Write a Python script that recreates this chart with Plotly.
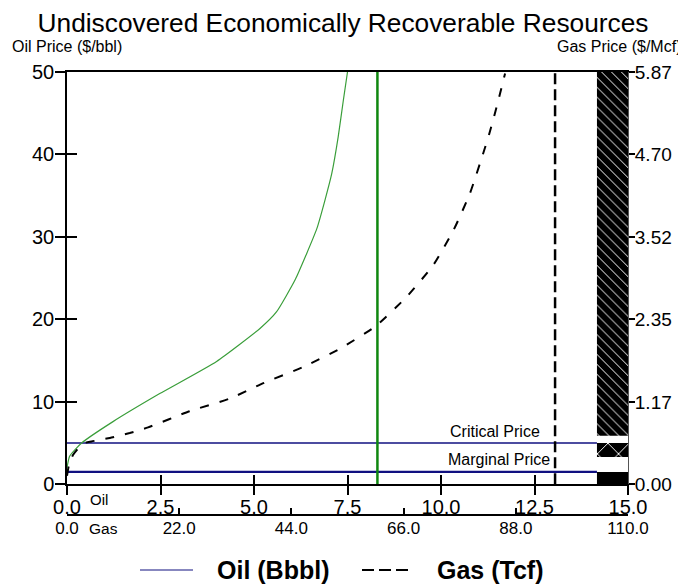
import plotly.graph_objects as go

# ---------------- data ----------------
oil_qty = [0, 0.07, 0.39, 1.23, 2.48, 4.0, 5.16, 5.6, 6.1, 6.41, 6.68, 6.9, 7.08, 7.25, 7.39, 7.5]
oil_price = [2.0, 3.4, 5.0, 7.6, 11.0, 14.9, 18.9, 20.9, 24.8, 28.0, 31.0, 34.5, 37.7, 42.1, 46.6, 50.0]

gas_qty = [0, 0.4, 1.2, 3.1, 4.8, 8.4, 12.3, 15.9, 24.0, 31.9, 38.5, 46.3, 53.5, 60.5,
           66.6, 71.8, 75.8, 79.0, 81.6, 82.8, 83.9, 84.9, 85.9]
gas_price = [0.12, 0.28, 0.42, 0.58, 0.61, 0.66, 0.73, 0.81, 1.04, 1.22, 1.44, 1.67, 1.93, 2.25,
             2.67, 3.12, 3.62, 4.14, 4.71, 4.99, 5.28, 5.56, 5.85]

oil_mean = 8.3      # Bbbl
gas_mean = 95.7     # Tcf
critical_price = 5.0
marginal_price = 1.5

oil_ticks = [0, 2.5, 5.0, 7.5, 10.0, 12.5, 15.0]
oil_tick_text = ["0.0", "2.5", "5.0", "7.5", "10.0", "12.5", "15.0"]
gas_ticks = [0, 22, 44, 66, 88, 110]
gas_tick_text = ["0.0", "22.0", "44.0", "66.0", "88.0", "110.0"]
oilp_ticks = [0, 10, 20, 30, 40, 50]
gasp_ticks = [0, 1.17, 2.35, 3.52, 4.70, 5.87]
gasp_tick_text = ["0.00", "1.17", "2.35", "3.52", "4.70", "5.87"]

bar_x0, bar_x1 = 14.17, 15.0
band_bottoms = [0.0, 3.3, 5.9]
band_tops = [1.5, 5.0, 50.0]
band_patterns = ["", "x", "\\"]

FONT = "Arial, Liberation Sans, sans-serif"
WIN_W, WIN_H = 686, 585
OFF = 8                      # default page body margin
W, H = WIN_W - OFF, WIN_H - OFF
# plot area in window pixels
L, R, T, B = 67, 628, 72, 515
ydom0 = (B - 484.3) / (B - T)


def px_x(px):
    return (px - L) / (R - L)


def px_y(py):
    return (B - py) / (B - T)


fig = go.Figure()

# pattern bar on the right
for b0, b1, pat in zip(band_bottoms, band_tops, band_patterns):
    if pat == "":
        marker = dict(color="black", line=dict(width=0), opacity=1)
    elif pat == "x":
        marker = dict(color="black", line=dict(width=0), opacity=1,
                      pattern=dict(shape="x", fgcolor="white", bgcolor="black",
                                   size=15, solidity=0.12, fillmode="replace"))
    else:
        marker = dict(color="black", line=dict(width=0), opacity=1,
                      pattern=dict(shape="\\", fgcolor="white", bgcolor="black",
                                   size=7, solidity=0.14, fillmode="replace"))
    fig.add_trace(go.Bar(x=[(bar_x0 + bar_x1) / 2], y=[b1 - b0], base=[b0],
                         width=[bar_x1 - bar_x0], marker=marker,
                         xaxis="x", yaxis="y", showlegend=False, hoverinfo="skip"))

# critical / marginal price lines
for pval, lw in [(critical_price, 1.5), (marginal_price, 2.2)]:
    fig.add_trace(go.Scatter(x=[0, bar_x0], y=[pval, pval], mode="lines",
                             line=dict(color="#101080", width=lw),
                             xaxis="x", yaxis="y", showlegend=False, hoverinfo="skip"))

# oil curve and oil mean
fig.add_trace(go.Scatter(x=oil_qty, y=oil_price, mode="lines",
                         line=dict(color="#3a9e3a", width=1.2, shape="spline", smoothing=0.5),
                         xaxis="x", yaxis="y", showlegend=False))
fig.add_trace(go.Scatter(x=[oil_mean, oil_mean], y=[0, 50], mode="lines",
                         line=dict(color="#0f870f", width=2.5),
                         xaxis="x", yaxis="y", showlegend=False))

# gas curve and gas mean
fig.add_trace(go.Scatter(x=gas_qty, y=gas_price, mode="lines",
                         line=dict(color="black", width=2, dash="9px,11px",
                                   shape="spline", smoothing=0.5),
                         xaxis="x2", yaxis="y2", showlegend=False))
fig.add_trace(go.Scatter(x=[gas_mean, gas_mean], y=[0, 5.87], mode="lines",
                         line=dict(color="black", width=2.5, dash="11px,5px"),
                         xaxis="x2", yaxis="y2", showlegend=False))

# empty trace for inner-tick axes
fig.add_trace(go.Scatter(x=[], y=[], xaxis="x3", yaxis="y3", showlegend=False))

tickfont = dict(family=FONT, size=20, color="black")

fig.update_layout(
    width=W, height=H,
    margin=dict(l=L - OFF, r=WIN_W - R, t=T - OFF, b=WIN_H - B, autoexpand=False),
    paper_bgcolor="white", plot_bgcolor="white",
    barmode="overlay",
    showlegend=False,
    font=dict(family=FONT, color="black"),
    title=dict(text="Undiscovered Economically Recoverable Resources",
               font=dict(family=FONT, size=26.3, color="black"),
               x=(343 - OFF) / W, xref="container", xanchor="center",
               y=1 - (22.5 - OFF) / H, yref="container", yanchor="middle"),
    xaxis=dict(range=[0, 15], domain=[0, 1], anchor="y",
               tickvals=oil_ticks, ticktext=oil_tick_text,
               ticks="outside", ticklen=9, tickwidth=1.5, tickcolor="black",
               ticklabelstandoff=-5,
               showline=True, linecolor="black", linewidth=1.8, mirror=True,
               showgrid=False, zeroline=False, tickfont=tickfont),
    yaxis=dict(range=[0, 50], domain=[ydom0, 1], anchor="x",
               tickvals=oilp_ticks,
               ticks="outside", ticklen=10, tickwidth=1.5, tickcolor="black",
               ticklabelstandoff=-3,
               showline=True, linecolor="black", linewidth=1.5,
               showgrid=False, zeroline=False, tickfont=tickfont),
    xaxis2=dict(range=[0, 110], overlaying="x", anchor="free", position=0,
                tickvals=gas_ticks, ticktext=gas_tick_text,
                ticks="inside", ticklen=6, tickwidth=1.5, tickcolor="black",
                ticklabelstandoff=-2,
                showline=True, linecolor="black", linewidth=2,
                showgrid=False, zeroline=False,
                tickfont=dict(family=FONT, size=17, color="black")),
    yaxis2=dict(range=[0, 5.87], overlaying="y", side="right", anchor="x",
                tickvals=gasp_ticks, ticktext=gasp_tick_text,
                ticks="outside", ticklen=6, tickwidth=1.5, tickcolor="black",
                ticklabelstandoff=-4,
                showline=True, linecolor="#555555", linewidth=1,
                showgrid=False, zeroline=False,
                tickfont=dict(family=FONT, size=19, color="black")),
    xaxis3=dict(range=[0, 15], overlaying="x", anchor="y3",
                tickvals=oil_ticks, ticks="inside", ticklen=9, tickwidth=1.5,
                tickcolor="black", showticklabels=False, showline=False,
                showgrid=False, zeroline=False),
    yaxis3=dict(range=[0, 50], overlaying="y", anchor="x3",
                tickvals=oilp_ticks, ticks="inside", ticklen=10, tickwidth=1.5,
                tickcolor="black", showticklabels=False, showline=False,
                showgrid=False, zeroline=False),
)

ann = []
ann.append(dict(text="Oil Price ($/bbl)", xref="paper", yref="paper",
                x=px_x(10), y=px_y(47), xanchor="left", yanchor="middle",
                showarrow=False, font=dict(family=FONT, size=16, color="black")))
ann.append(dict(text="Gas Price ($/Mcf)", xref="paper", yref="paper",
                x=px_x(683), y=px_y(47), xanchor="right", yanchor="middle",
                showarrow=False, font=dict(family=FONT, size=16, color="black")))
ann.append(dict(text="Critical Price", xref="x", yref="y",
                x=12.71, y=6.4, xanchor="right", yanchor="middle",
                showarrow=False, font=dict(family=FONT, size=16, color="black")))
ann.append(dict(text="Marginal Price", xref="x", yref="y",
                x=12.96, y=2.95, xanchor="right", yanchor="middle",
                showarrow=False, font=dict(family=FONT, size=16, color="black")))
ann.append(dict(text="Oil", xref="paper", yref="paper",
                x=px_x(88), y=px_y(499), xanchor="left", yanchor="middle",
                showarrow=False, font=dict(family=FONT, size=15, color="black")))
ann.append(dict(text="Gas", xref="paper", yref="paper",
                x=px_x(87), y=px_y(528), xanchor="left", yanchor="middle",
                showarrow=False, font=dict(family=FONT, size=15.5, color="black")))
# legend texts
ann.append(dict(text="<b>Oil (Bbbl)</b>", xref="paper", yref="paper",
                x=px_x(215), y=px_y(570), xanchor="left", yanchor="middle",
                showarrow=False, font=dict(family=FONT, size=25, color="black")))
ann.append(dict(text="<b>Gas (Tcf)</b>", xref="paper", yref="paper",
                x=px_x(435), y=px_y(570), xanchor="left", yanchor="middle",
                showarrow=False, font=dict(family=FONT, size=25, color="black")))
fig.update_layout(annotations=ann)

shapes = [
    dict(type="line", xref="paper", yref="paper",
         x0=px_x(140), x1=px_x(193), y0=px_y(570), y1=px_y(570),
         line=dict(color="#101080", width=1.2)),
    dict(type="line", xref="paper", yref="paper",
         x0=px_x(362), x1=px_x(408), y0=px_y(570), y1=px_y(570),
         line=dict(color="black", width=2, dash="12px,5px")),
]
fig.update_layout(shapes=shapes)

fig.write_html("out.html")
